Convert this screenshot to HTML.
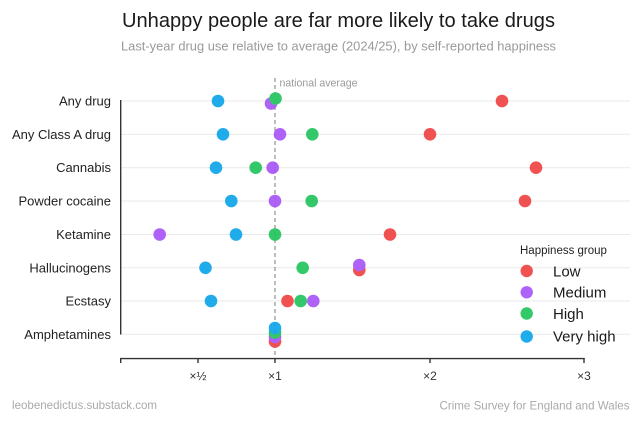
<!DOCTYPE html>
<html>
<head>
<meta charset="utf-8">
<style>
  html, body { margin:0; padding:0; background:#fff; }
  svg { display:block; }
  text { font-family: "Liberation Sans", "DejaVu Sans", sans-serif; }
</style>
</head>
<body>
<svg width="640" height="423" viewBox="0 0 640 423" xmlns="http://www.w3.org/2000/svg">
  <rect width="640" height="423" fill="#fff"/>

  <!-- Title -->
  <text x="122" y="27" font-size="20" fill="#1a1a1a" textLength="433" lengthAdjust="spacingAndGlyphs">Unhappy people are far more likely to take drugs</text>
  <text x="121" y="50.5" font-size="13" fill="#9a9a9a" textLength="435" lengthAdjust="spacingAndGlyphs">Last-year drug use relative to average (2024/25), by self-reported happiness</text>

  <!-- gridlines -->
  <g stroke="#e9e9e9" stroke-width="1">
    <line x1="120" y1="101" x2="630" y2="101"/>
    <line x1="120" y1="134.3" x2="630" y2="134.3"/>
    <line x1="120" y1="167.7" x2="630" y2="167.7"/>
    <line x1="120" y1="201" x2="630" y2="201"/>
    <line x1="120" y1="234.5" x2="630" y2="234.5"/>
    <line x1="120" y1="267.8" x2="630" y2="267.8"/>
    <line x1="120" y1="301" x2="630" y2="301"/>
    <line x1="120" y1="334.3" x2="630" y2="334.3"/>
  </g>

  <!-- national average dashed line -->
  <line x1="275" y1="78" x2="275" y2="358" stroke="#999" stroke-width="1.3" stroke-dasharray="4 3"/>
  <text x="279.5" y="86.5" font-size="11" fill="#9a9a9a" textLength="78" lengthAdjust="spacingAndGlyphs">national average</text>

  <!-- axes -->
  <line x1="120.7" y1="100" x2="120.7" y2="334.5" stroke="#333" stroke-width="1.4"/>
  <line x1="120" y1="358.6" x2="584.7" y2="358.6" stroke="#333" stroke-width="1.4"/>
  <g stroke="#333" stroke-width="1.4">
    <line x1="120.7" y1="358" x2="120.7" y2="363"/>
    <line x1="198" y1="358" x2="198" y2="363"/>
    <line x1="275" y1="358" x2="275" y2="363"/>
    <line x1="430" y1="358" x2="430" y2="363"/>
    <line x1="584" y1="358" x2="584" y2="363"/>
  </g>
  <g font-size="12" fill="#333" text-anchor="middle">
    <text x="198" y="380">×½</text>
    <text x="275" y="380">×1</text>
    <text x="430" y="380">×2</text>
    <text x="584" y="380">×3</text>
  </g>

  <!-- y labels -->
  <g font-size="13" fill="#222" text-anchor="end">
    <text x="111" y="105.5">Any drug</text>
    <text x="111" y="138.8">Any Class A drug</text>
    <text x="111" y="172.2">Cannabis</text>
    <text x="111" y="205.5">Powder cocaine</text>
    <text x="111" y="239">Ketamine</text>
    <text x="111" y="272.3">Hallucinogens</text>
    <text x="111" y="305.5">Ecstasy</text>
    <text x="111" y="338.8">Amphetamines</text>
  </g>

  <!-- points: Low (red), Medium (purple), High (green), Very high (blue) -->
  <g opacity="0.92">
    <!-- Low -->
    <g fill="#ef4444">
      <circle cx="502" cy="101" r="6.3"/>
      <circle cx="430" cy="134.3" r="6.3"/>
      <circle cx="536" cy="167.7" r="6.3"/>
      <circle cx="525" cy="201" r="6.3"/>
      <circle cx="390" cy="234.5" r="6.3"/>
      <circle cx="359.3" cy="270" r="6.3"/>
      <circle cx="287.5" cy="301" r="6.3"/>
      <circle cx="275" cy="341.5" r="6.3"/>
    </g>
    <!-- Medium -->
    <g fill="#a855f7">
      <circle cx="271" cy="103.5" r="6.3"/>
      <circle cx="280" cy="134.3" r="6.3"/>
      <circle cx="272.7" cy="167.7" r="6.3"/>
      <circle cx="275" cy="201" r="6.3"/>
      <circle cx="159.7" cy="234.5" r="6.3"/>
      <circle cx="359.3" cy="265" r="6.3"/>
      <circle cx="313.3" cy="301" r="6.3"/>
      <circle cx="275" cy="337" r="6.3"/>
    </g>
    <!-- High -->
    <g fill="#22c55e">
      <circle cx="275.5" cy="98.5" r="6.3"/>
      <circle cx="312.3" cy="134.3" r="6.3"/>
      <circle cx="255.7" cy="167.7" r="6.3"/>
      <circle cx="311.7" cy="201" r="6.3"/>
      <circle cx="275" cy="234.5" r="6.3"/>
      <circle cx="302.7" cy="267.8" r="6.3"/>
      <circle cx="300.7" cy="301" r="6.3"/>
      <circle cx="275" cy="332.5" r="6.3"/>
    </g>
    <!-- Very high -->
    <g fill="#0ea5e9">
      <circle cx="218" cy="101" r="6.3"/>
      <circle cx="223" cy="134.3" r="6.3"/>
      <circle cx="216" cy="167.7" r="6.3"/>
      <circle cx="231.3" cy="201" r="6.3"/>
      <circle cx="236" cy="234.5" r="6.3"/>
      <circle cx="205.5" cy="267.8" r="6.3"/>
      <circle cx="211" cy="301" r="6.3"/>
      <circle cx="275" cy="328" r="6.3"/>
    </g>
  </g>

  <!-- legend -->
  <text x="520" y="254" font-size="11.5" fill="#222">Happiness group</text>
  <g opacity="0.92">
    <circle cx="526.7" cy="271" r="6.2" fill="#ef4444"/>
    <circle cx="526.7" cy="292.3" r="6.2" fill="#a855f7"/>
    <circle cx="526.7" cy="313.5" r="6.2" fill="#22c55e"/>
    <circle cx="526.7" cy="336.5" r="6.2" fill="#0ea5e9"/>
  </g>
  <g font-size="15" fill="#1a1a1a">
    <text x="553" y="276.5">Low</text>
    <text x="553" y="297.5">Medium</text>
    <text x="553" y="319">High</text>
    <text x="553" y="341.5">Very high</text>
  </g>

  <!-- footer -->
  <text x="12" y="409" font-size="12" fill="#aaa" textLength="145" lengthAdjust="spacingAndGlyphs">leobenedictus.substack.com</text>
  <text x="439.5" y="409.5" font-size="12" fill="#aaa" textLength="190" lengthAdjust="spacingAndGlyphs">Crime Survey for England and Wales</text>
</svg>
</body>
</html>
